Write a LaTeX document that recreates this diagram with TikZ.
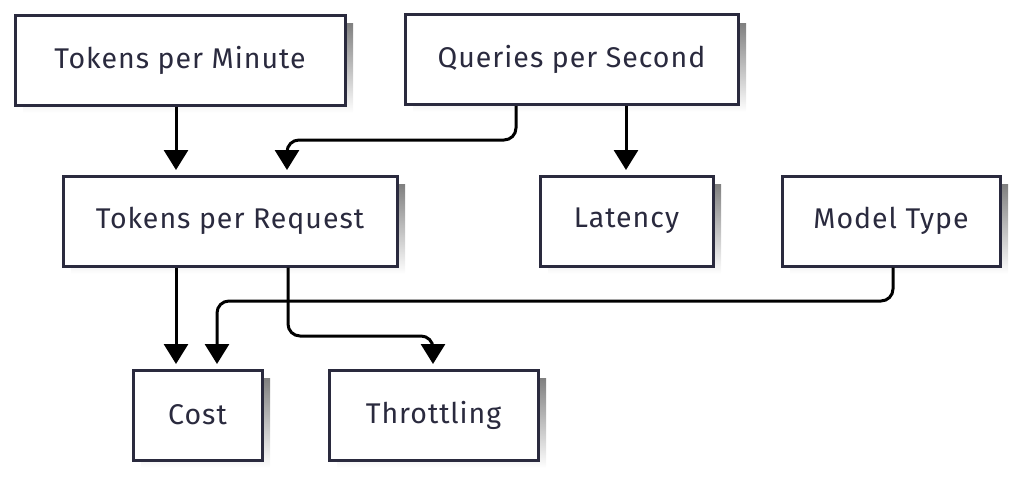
\documentclass[tikz,border=0pt]{standalone}
\usepackage{fontspec}
\setmainfont{Fira Sans}[LetterSpace=3.5]
\usetikzlibrary{arrows.meta}
\definecolor{ink}{HTML}{2A2A3E}
\definecolor{shade}{HTML}{F0F0F0}
\tikzset{
  x=1pt,y=-1pt,
  box/.style={draw=ink,line width=3pt,fill=white,text=ink,
    minimum height=90pt,inner sep=0pt},
  lbl/.style={text=ink,font=\fontsize{28.5}{32}\selectfont},
  link/.style={draw=black,line width=3pt,rounded corners=12pt,-{Triangle[width=24pt,length=20pt]}},
}
\newcommand{\mybox}[5]{%
  \fill[shade] (#2+8,#3+8) rectangle (#4+8,#5+8);
  \node[box,minimum width=#4-#2] (#1) at ({(#2+#4)/2},{(#3+#5)/2}) {};
}
\begin{document}
\begin{tikzpicture}
\useasboundingbox (0,0) rectangle (1021,477);
\mybox{tpm}{15}{15}{345}{105}
\node[lbl] at (tpm) {Tokens per Minute};
\mybox{qps}{405}{15}{738}{104}
\node[lbl] at (qps) {Queries per Second};
\mybox{tpr}{63}{176}{397}{266}
\node[lbl] at (tpr) {Tokens per Request};
\mybox{lat}{540}{176}{713}{266}
\node[lbl] at (lat) {Latency};
\mybox{mt}{782}{176}{1000}{266}
\node[lbl] at (mt) {Model Type};
\mybox{cost}{133}{370}{262}{460}
\node[lbl] at (cost) {Cost};
\mybox{thr}{329}{370}{538}{460}
\node[lbl] at (thr) {Throttling};

\draw[link] (tpm.south -| 176,0) -- (176,170);
\draw[link] (qps.south -| 516,0) -- (516,140) -- (287,140) -- (287,170);
\draw[link] (qps.south -| 626,0) -- (626,170);
\draw[link] (tpr.south -| 176,0) -- (176,364);
\draw[link] (mt.south -| 893,0) -- (893,301) -- (217,301) -- (217,364);
\draw[link] (tpr.south -| 288,0) -- (288,336) -- (433,336) -- (433,364);
\end{tikzpicture}
\end{document}
